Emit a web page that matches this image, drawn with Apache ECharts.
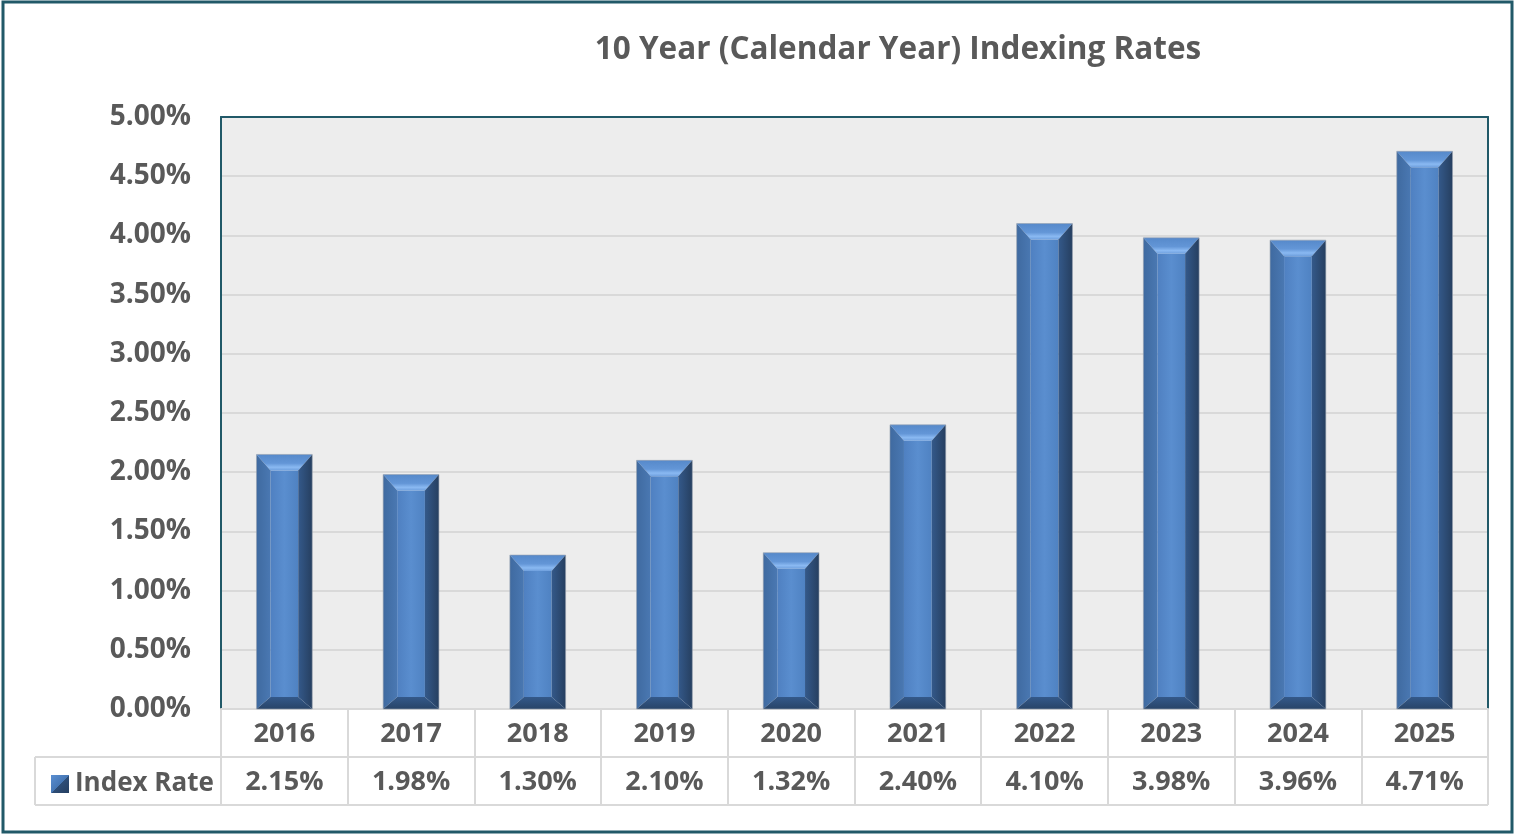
<!DOCTYPE html>
<html>
<head>
<meta charset="utf-8">
<style>html,body{margin:0;padding:0;background:#fff;}#c{width:1516px;height:835px;}</style>
<script src="https://cdn.jsdelivr.net/npm/echarts@6/dist/echarts.min.js"></script>
</head>
<body>
<div id="c"></div>
<script>
var categories = ['2016','2017','2018','2019','2020','2021','2022','2023','2024','2025'];
var indexRate = [2.15, 1.98, 1.30, 2.10, 1.32, 2.40, 4.10, 3.98, 3.96, 4.71];
var yTicks = {min: 0, max: 5, interval: 0.5};
var seriesName = 'Index Rate';
var titleText = '10 Year (Calendar Year) Indexing Rates';

var FONT = '"Open Sans", Lato, sans-serif';
var TXT = '#595959';
var TEAL = '#215968';
var GRIDC = '#D9D9D9';

var chart = echarts.init(document.getElementById('c'), null, {renderer: 'canvas'});

function renderBar(params, api) {
  var cx = api.coord([api.value(0), 0])[0];
  var top = api.coord([api.value(0), api.value(1)])[1];
  var bot = api.coord([api.value(0), 0])[1];
  var w = api.size([1, 0])[0] * 0.44;
  var x0 = cx - w / 2, x1 = cx + w / 2;
  var s = 14, tb = 16, bb = 12;
  return {
    type: 'group',
    children: [
      {type: 'rect', shape: {x: x0 + s, y: top + tb, width: w - 2 * s, height: bot - top - tb - bb},
        style: {fill: new echarts.graphic.LinearGradient(0, 0, 1, 0, [
          {offset: 0, color: '#4F80C1'}, {offset: 0.5, color: '#5A8ECF'}, {offset: 1, color: '#4F82C2'}])}},
      {type: 'polygon', shape: {points: [[x0, top], [x1, top], [x1 - s, top + tb], [x0 + s, top + tb]]},
        style: {fill: new echarts.graphic.LinearGradient(0, 0, 0, 1, [
          {offset: 0, color: '#5689CA'}, {offset: 0.55, color: '#6396D7'}, {offset: 0.8, color: '#8AB9F2'}, {offset: 1, color: '#6E9FDD'}])}},
      {type: 'polygon', shape: {points: [[x0, top], [x0 + s, top + tb], [x0 + s, bot - bb], [x0, bot]]},
        style: {fill: new echarts.graphic.LinearGradient(0, 0, 1, 0, [
          {offset: 0, color: '#3F6AA0'}, {offset: 1, color: '#4A78B2'}])}},
      {type: 'polygon', shape: {points: [[x1, top], [x1 - s, top + tb], [x1 - s, bot - bb], [x1, bot]]},
        style: {fill: new echarts.graphic.LinearGradient(0, 0, 1, 0, [
          {offset: 0, color: '#34598A'}, {offset: 1, color: '#263F60'}])}},
      {type: 'polygon', shape: {points: [[x0, bot], [x0 + s, bot - bb], [x1 - s, bot - bb], [x1, bot]]},
        style: {fill: new echarts.graphic.LinearGradient(0, 0, 0, 1, [
          {offset: 0, color: '#34598A'}, {offset: 1, color: '#284468'}])}},
      {type: 'rect', shape: {x: x0, y: top, width: w, height: bot - top},
        style: {fill: 'none', stroke: 'rgba(150,160,175,0.6)', lineWidth: 1}}
    ]
  };
}

var labelStyle = {color: TXT, fontFamily: FONT, fontWeight: 'bold', fontSize: 27};

chart.setOption({
  animation: false,
  backgroundColor: '#fff',
  title: {
    text: titleText, left: 893, top: 29, textAlign: 'center',
    textStyle: {color: TXT, fontFamily: FONT, fontWeight: 'bold', fontSize: 31.5}
  },
  legend: {
    left: 46, top: 766, itemWidth: 18, itemHeight: 18, itemGap: 6, icon: 'rect',
    selectedMode: false,
    data: [{name: seriesName, itemStyle: {color: new echarts.graphic.LinearGradient(0, 0, 1, 1, [
      {offset: 0, color: '#5A8FD2'}, {offset: 0.5, color: '#4677B5'}, {offset: 0.5, color: '#2E4E78'}, {offset: 1, color: '#243E60'}])}}],
    textStyle: {color: TXT, fontFamily: FONT, fontWeight: 'bold', fontSize: 26, padding: [0, 0, 0, 1]}
  },
  grid: {left: 221, right: 28, top: 117, bottom: 126, show: true, backgroundColor: '#EDEDED', borderWidth: 0},
  xAxis: [
    {
      type: 'category', data: categories, position: 'bottom',
      axisLine: {show: true, lineStyle: {color: GRIDC, width: 2}},
      axisTick: {show: true, length: 96, lineStyle: {color: GRIDC, width: 2}},
      axisLabel: Object.assign({margin: 12}, labelStyle)
    },
    {
      type: 'category', data: indexRate.map(function (v) { return v.toFixed(2) + '%'; }),
      position: 'bottom', offset: 48,
      axisLine: {show: false}, axisTick: {show: false},
      axisLabel: Object.assign({margin: 12}, labelStyle)
    },
    {
      type: 'category', data: categories, position: 'top',
      axisLine: {show: true, lineStyle: {color: TEAL, width: 2}},
      axisTick: {show: false}, axisLabel: {show: false}
    }
  ],
  yAxis: [
    {
      type: 'value', min: yTicks.min, max: yTicks.max, interval: yTicks.interval,
      axisLine: {show: true, lineStyle: {color: TEAL, width: 2}},
      axisTick: {show: false},
      splitLine: {lineStyle: {color: GRIDC, width: 2}},
      axisLabel: Object.assign({margin: 30, padding: [6, 0, 0, 0], formatter: function (v) { return v.toFixed(2) + '%'; }}, labelStyle, {fontSize: 28})
    },
    {
      type: 'value', position: 'right', min: yTicks.min, max: yTicks.max, interval: yTicks.interval,
      axisLine: {show: true, lineStyle: {color: TEAL, width: 2}},
      axisTick: {show: false}, axisLabel: {show: false}, splitLine: {show: false}
    }
  ],
  series: [{
    name: seriesName, type: 'custom', renderItem: renderBar,
    itemStyle: {color: '#4677B5'},
    encode: {x: 0, y: 1},
    data: indexRate.map(function (v, i) { return [i, v]; }),
    z: 3
  }],
  graphic: [
    {type: 'line', shape: {x1: 221, y1: 757, x2: 1488, y2: 757}, style: {stroke: GRIDC, lineWidth: 2}, z: 10},
    {type: 'line', shape: {x1: 35, y1: 757, x2: 221, y2: 757}, style: {stroke: GRIDC, lineWidth: 2}, z: 10},
    {type: 'line', shape: {x1: 35, y1: 805, x2: 1488, y2: 805}, style: {stroke: GRIDC, lineWidth: 2}, z: 10},
    {type: 'line', shape: {x1: 35, y1: 757, x2: 35, y2: 805}, style: {stroke: GRIDC, lineWidth: 2}, z: 10},
    {type: 'rect', shape: {x: 3, y: 2, width: 1509, height: 830}, style: {fill: 'none', stroke: TEAL, lineWidth: 3}, z: 10}
  ]
});
</script>
</body>
</html>
